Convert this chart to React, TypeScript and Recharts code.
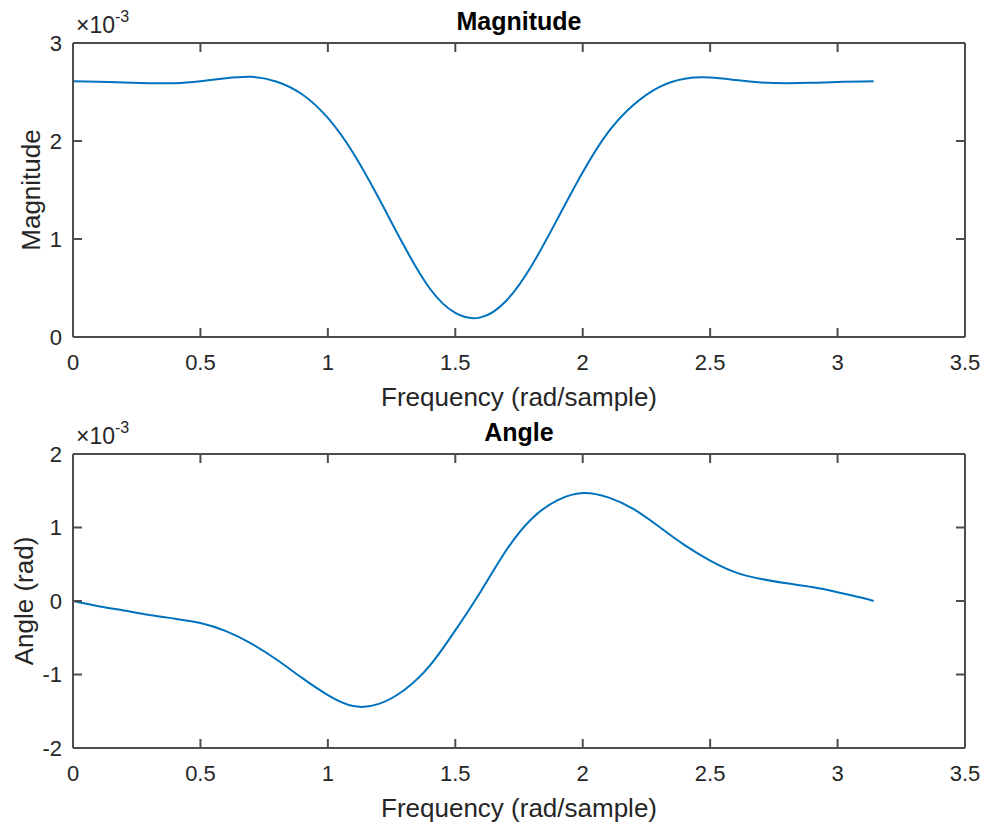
import React from 'react';
import { LineChart, Line, XAxis, YAxis } from 'recharts';

// frequency grid (rad/sample)
const freq = [
  0, 0.1, 0.2, 0.3, 0.4, 0.5, 0.6, 0.7, 0.8, 0.9, 1.0, 1.1, 1.2, 1.3, 1.4, 1.5,
  1.6, 1.7, 1.8, 1.9, 2.0, 2.1, 2.2, 2.3, 2.4, 2.5, 2.6, 2.7, 2.8, 2.9, 3.0, 3.1, 3.1416,
];

// magnitude, in units of 1e-3
const magnitude = [
  2.61, 2.605, 2.597, 2.59, 2.59, 2.61, 2.64, 2.655, 2.605, 2.475, 2.235, 1.875, 1.415, 0.925, 0.495, 0.245,
  0.2, 0.37, 0.73, 1.2, 1.68, 2.09, 2.37, 2.55, 2.635, 2.648, 2.622, 2.597, 2.59, 2.594, 2.602, 2.608, 2.61,
];

// angle, in units of 1e-3 rad
const angle = [
  0, -0.07, -0.13, -0.19, -0.24, -0.3, -0.41, -0.58, -0.8, -1.05, -1.28, -1.43, -1.4, -1.21, -0.88, -0.4,
  0.13, 0.69, 1.12, 1.37, 1.47, 1.41, 1.25, 1.01, 0.76, 0.55, 0.39, 0.3, 0.24, 0.19, 0.12, 0.04, 0,
];

const xTicks = [0, 0.5, 1, 1.5, 2, 2.5, 3, 3.5];
const magTicks = [0, 1, 2, 3];
const angleTicks = [-2, -1, 0, 1, 2];

const magData = freq.map((f, i) => ({ f, v: magnitude[i] }));
const angleData = freq.map((f, i) => ({ f, v: angle[i] }));

const FONT = '"Liberation Sans", Arial, Helvetica, sans-serif';
const AXIS = '#4d4d4d';
const TEXT = '#262626';
const W = 989;
const PLOT_L = 73;
const PLOT_R = 965;
const PLOT_TOP = 43;
const PLOT_BOT = 337;
const TICK = 9;

const NoLabel = () => <g />;

interface PanelProps {
  data: { f: number; v: number }[];
  yDomain: [number, number];
  yTicks: number[];
  title: string;
  ylabel: string;
  ylabelX: number;
  height: number;
}

function Panel({ data, yDomain, yTicks, title, ylabel, ylabelX, height }: PanelProps) {
  const midX = (PLOT_L + PLOT_R) / 2;
  const midY = (PLOT_TOP + PLOT_BOT) / 2;
  const tickStyle = { fontSize: 22, fill: TEXT, fontFamily: FONT };
  // mirrored axes only draw the box and the inward tick marks
  const boxAxis = {
    stroke: AXIS,
    strokeWidth: 2,
    axisLine: { stroke: AXIS, strokeWidth: 2 },
    tickLine: { stroke: AXIS, strokeWidth: 2 },
    tickSize: TICK,
    tick: NoLabel,
    mirror: true,
  };
  const hidden = {
    type: 'natural' as const,
    dataKey: 'v',
    stroke: 'transparent',
    strokeWidth: 0,
    dot: false,
    activeDot: false,
    legendType: 'none' as const,
    isAnimationActive: false,
  };
  return (
    <div style={{ position: 'relative', width: W, height }}>
      <LineChart
        width={W}
        height={height}
        data={data}
        margin={{ top: PLOT_TOP, right: W - PLOT_R, left: PLOT_L - 40, bottom: height - PLOT_BOT - 30 }}
      >
        {/* tick labels */}
        <XAxis
          dataKey="f"
          type="number"
          domain={[0, 3.5]}
          ticks={xTicks}
          interval={0}
          height={30}
          axisLine={false}
          tickLine={false}
          tickSize={0}
          tickMargin={17}
          tick={tickStyle}
        />
        <YAxis
          type="number"
          domain={yDomain}
          ticks={yTicks}
          interval={0}
          width={40}
          axisLine={false}
          tickLine={false}
          tickSize={0}
          tickMargin={11}
          tick={tickStyle}
        />
        {/* box with inward ticks */}
        <XAxis xAxisId="bm" dataKey="f" orientation="bottom" type="number" domain={[0, 3.5]} ticks={xTicks} interval={0} height={30} {...boxAxis} />
        <XAxis xAxisId="tm" dataKey="f" orientation="top" type="number" domain={[0, 3.5]} ticks={xTicks} interval={0} height={30} {...boxAxis} />
        <YAxis yAxisId="lm" orientation="left" type="number" domain={yDomain} ticks={yTicks} interval={0} width={30} {...boxAxis} />
        <YAxis yAxisId="rm" orientation="right" type="number" domain={yDomain} ticks={yTicks} interval={0} width={30} {...boxAxis} />
        <Line xAxisId="bm" yAxisId="lm" {...hidden} />
        <Line xAxisId="tm" yAxisId="rm" {...hidden} />
        <Line
          type="natural"
          dataKey="v"
          stroke="#0072BD"
          strokeWidth={2}
          dot={false}
          isAnimationActive={false}
        />
      </LineChart>
      <svg
        width={W}
        height={height}
        style={{ position: 'absolute', left: 0, top: 0, pointerEvents: 'none', fontFamily: FONT }}
      >
        <text x={midX} y={30} textAnchor="middle" fontSize={25} fontWeight="bold" fill="#000">
          {title}
        </text>
        <text x={76} y={33} fontSize={23} fill={TEXT}>
          ×10
          <tspan dy={-11} fontSize={16}>-3</tspan>
        </text>
        <text x={midX} y={406} textAnchor="middle" fontSize={26} fill={TEXT}>
          Frequency (rad/sample)
        </text>
        <text
          x={ylabelX}
          y={midY}
          textAnchor="middle"
          dominantBaseline="central"
          fontSize={26}
          fill={TEXT}
          transform={`rotate(-90 ${ylabelX} ${midY})`}
        >
          {ylabel}
        </text>
      </svg>
    </div>
  );
}

export default function App() {
  return (
    <div
      style={{
        position: 'absolute',
        left: 0,
        top: 0,
        width: W,
        height: 823,
        background: '#fff',
        overflow: 'hidden',
      }}
    >
      <div style={{ position: 'absolute', left: 0, top: 0 }}>
        <Panel
          data={magData}
          yDomain={[0, 3]}
          yTicks={magTicks}
          title="Magnitude"
          ylabel="Magnitude"
          ylabelX={31}
          height={415}
        />
      </div>
      <div style={{ position: 'absolute', left: 0, top: 411 }}>
        <Panel
          data={angleData}
          yDomain={[-2, 2]}
          yTicks={angleTicks}
          title="Angle"
          ylabel="Angle (rad)"
          ylabelX={24}
          height={412}
        />
      </div>
    </div>
  );
}
